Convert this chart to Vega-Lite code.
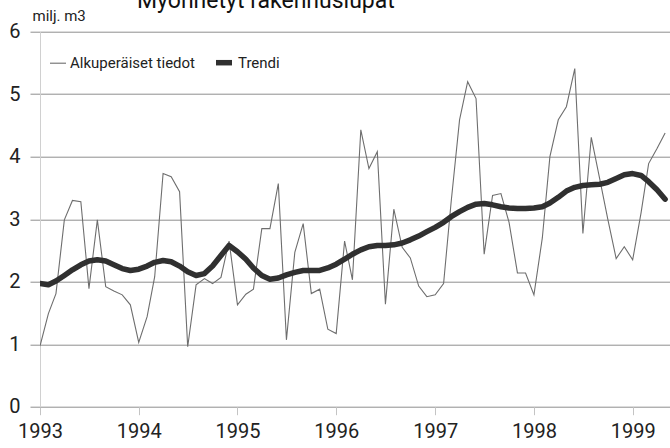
{
  "$schema": "https://vega.github.io/schema/vega-lite/v6.json",
  "width": 630,
  "height": 375,
  "autosize": "none",
  "padding": {"left": 40, "top": 31.7, "right": 0, "bottom": 41.3},
  "background": "white",
  "title": {
    "text": "Myönnetyt rakennuslupat",
    "fontSize": 23,
    "fontWeight": "normal",
    "color": "#111111",
    "anchor": "start",
    "frame": "group",
    "dx": 97,
    "dy": 22,
    "offset": 0,
    "baseline": "alphabetic"
  },
  "config": {
    "font": "Roboto, sans-serif",
    "view": {"stroke": null}
  },
  "data": {
    "values": [
      {"date": "1993-01-01", "Alkuperäiset tiedot": 0.97, "Trendi": 1.97},
      {"date": "1993-02-01", "Alkuperäiset tiedot": 1.49, "Trendi": 1.95},
      {"date": "1993-03-01", "Alkuperäiset tiedot": 1.81, "Trendi": 2.01},
      {"date": "1993-04-01", "Alkuperäiset tiedot": 2.99, "Trendi": 2.10},
      {"date": "1993-05-01", "Alkuperäiset tiedot": 3.30, "Trendi": 2.19},
      {"date": "1993-06-01", "Alkuperäiset tiedot": 3.28, "Trendi": 2.27},
      {"date": "1993-07-01", "Alkuperäiset tiedot": 1.89, "Trendi": 2.33},
      {"date": "1993-08-01", "Alkuperäiset tiedot": 2.99, "Trendi": 2.35},
      {"date": "1993-09-01", "Alkuperäiset tiedot": 1.92, "Trendi": 2.33},
      {"date": "1993-10-01", "Alkuperäiset tiedot": 1.85, "Trendi": 2.27},
      {"date": "1993-11-01", "Alkuperäiset tiedot": 1.79, "Trendi": 2.21},
      {"date": "1993-12-01", "Alkuperäiset tiedot": 1.63, "Trendi": 2.18},
      {"date": "1994-01-01", "Alkuperäiset tiedot": 1.03, "Trendi": 2.20},
      {"date": "1994-02-01", "Alkuperäiset tiedot": 1.44, "Trendi": 2.25},
      {"date": "1994-03-01", "Alkuperäiset tiedot": 2.08, "Trendi": 2.31},
      {"date": "1994-04-01", "Alkuperäiset tiedot": 3.73, "Trendi": 2.34},
      {"date": "1994-05-01", "Alkuperäiset tiedot": 3.68, "Trendi": 2.32},
      {"date": "1994-06-01", "Alkuperäiset tiedot": 3.44, "Trendi": 2.25},
      {"date": "1994-07-01", "Alkuperäiset tiedot": 0.96, "Trendi": 2.16},
      {"date": "1994-08-01", "Alkuperäiset tiedot": 1.95, "Trendi": 2.10},
      {"date": "1994-09-01", "Alkuperäiset tiedot": 2.05, "Trendi": 2.13},
      {"date": "1994-10-01", "Alkuperäiset tiedot": 1.97, "Trendi": 2.25},
      {"date": "1994-11-01", "Alkuperäiset tiedot": 2.07, "Trendi": 2.42},
      {"date": "1994-12-01", "Alkuperäiset tiedot": 2.65, "Trendi": 2.58},
      {"date": "1995-01-01", "Alkuperäiset tiedot": 1.63, "Trendi": 2.48},
      {"date": "1995-02-01", "Alkuperäiset tiedot": 1.80, "Trendi": 2.36},
      {"date": "1995-03-01", "Alkuperäiset tiedot": 1.88, "Trendi": 2.22},
      {"date": "1995-04-01", "Alkuperäiset tiedot": 2.85, "Trendi": 2.10},
      {"date": "1995-05-01", "Alkuperäiset tiedot": 2.85, "Trendi": 2.04},
      {"date": "1995-06-01", "Alkuperäiset tiedot": 3.57, "Trendi": 2.06},
      {"date": "1995-07-01", "Alkuperäiset tiedot": 1.07, "Trendi": 2.11},
      {"date": "1995-08-01", "Alkuperäiset tiedot": 2.47, "Trendi": 2.15},
      {"date": "1995-09-01", "Alkuperäiset tiedot": 2.93, "Trendi": 2.18},
      {"date": "1995-10-01", "Alkuperäiset tiedot": 1.81, "Trendi": 2.18},
      {"date": "1995-11-01", "Alkuperäiset tiedot": 1.88, "Trendi": 2.18},
      {"date": "1995-12-01", "Alkuperäiset tiedot": 1.24, "Trendi": 2.22},
      {"date": "1996-01-01", "Alkuperäiset tiedot": 1.17, "Trendi": 2.28},
      {"date": "1996-02-01", "Alkuperäiset tiedot": 2.65, "Trendi": 2.36},
      {"date": "1996-03-01", "Alkuperäiset tiedot": 2.03, "Trendi": 2.44},
      {"date": "1996-04-01", "Alkuperäiset tiedot": 4.43, "Trendi": 2.51},
      {"date": "1996-05-01", "Alkuperäiset tiedot": 3.81, "Trendi": 2.56},
      {"date": "1996-06-01", "Alkuperäiset tiedot": 4.08, "Trendi": 2.58},
      {"date": "1996-07-01", "Alkuperäiset tiedot": 1.64, "Trendi": 2.58},
      {"date": "1996-08-01", "Alkuperäiset tiedot": 3.16, "Trendi": 2.59},
      {"date": "1996-09-01", "Alkuperäiset tiedot": 2.55, "Trendi": 2.62},
      {"date": "1996-10-01", "Alkuperäiset tiedot": 2.38, "Trendi": 2.67},
      {"date": "1996-11-01", "Alkuperäiset tiedot": 1.93, "Trendi": 2.73},
      {"date": "1996-12-01", "Alkuperäiset tiedot": 1.76, "Trendi": 2.80},
      {"date": "1997-01-01", "Alkuperäiset tiedot": 1.79, "Trendi": 2.87},
      {"date": "1997-02-01", "Alkuperäiset tiedot": 1.97, "Trendi": 2.95},
      {"date": "1997-03-01", "Alkuperäiset tiedot": 3.28, "Trendi": 3.04},
      {"date": "1997-04-01", "Alkuperäiset tiedot": 4.59, "Trendi": 3.12},
      {"date": "1997-05-01", "Alkuperäiset tiedot": 5.20, "Trendi": 3.19},
      {"date": "1997-06-01", "Alkuperäiset tiedot": 4.93, "Trendi": 3.24},
      {"date": "1997-07-01", "Alkuperäiset tiedot": 2.44, "Trendi": 3.25},
      {"date": "1997-08-01", "Alkuperäiset tiedot": 3.38, "Trendi": 3.23},
      {"date": "1997-09-01", "Alkuperäiset tiedot": 3.41, "Trendi": 3.20},
      {"date": "1997-10-01", "Alkuperäiset tiedot": 2.95, "Trendi": 3.18},
      {"date": "1997-11-01", "Alkuperäiset tiedot": 2.14, "Trendi": 3.17},
      {"date": "1997-12-01", "Alkuperäiset tiedot": 2.14, "Trendi": 3.17},
      {"date": "1998-01-01", "Alkuperäiset tiedot": 1.79, "Trendi": 3.18},
      {"date": "1998-02-01", "Alkuperäiset tiedot": 2.70, "Trendi": 3.20},
      {"date": "1998-03-01", "Alkuperäiset tiedot": 4.00, "Trendi": 3.26},
      {"date": "1998-04-01", "Alkuperäiset tiedot": 4.59, "Trendi": 3.35},
      {"date": "1998-05-01", "Alkuperäiset tiedot": 4.80, "Trendi": 3.45},
      {"date": "1998-06-01", "Alkuperäiset tiedot": 5.41, "Trendi": 3.51},
      {"date": "1998-07-01", "Alkuperäiset tiedot": 2.77, "Trendi": 3.54},
      {"date": "1998-08-01", "Alkuperäiset tiedot": 4.31, "Trendi": 3.55},
      {"date": "1998-09-01", "Alkuperäiset tiedot": 3.65, "Trendi": 3.56},
      {"date": "1998-10-01", "Alkuperäiset tiedot": 3.00, "Trendi": 3.59},
      {"date": "1998-11-01", "Alkuperäiset tiedot": 2.37, "Trendi": 3.65},
      {"date": "1998-12-01", "Alkuperäiset tiedot": 2.56, "Trendi": 3.71},
      {"date": "1999-01-01", "Alkuperäiset tiedot": 2.35, "Trendi": 3.73},
      {"date": "1999-02-01", "Alkuperäiset tiedot": 3.10, "Trendi": 3.70},
      {"date": "1999-03-01", "Alkuperäiset tiedot": 3.89, "Trendi": 3.60},
      {"date": "1999-04-01", "Alkuperäiset tiedot": 4.13, "Trendi": 3.47},
      {"date": "1999-05-01", "Alkuperäiset tiedot": 4.38, "Trendi": 3.32}
    ]
  },
  "transform": [
    {"fold": ["Alkuperäiset tiedot", "Trendi"], "as": ["sarja", "arvo"]}
  ],
  "encoding": {
    "x": {
      "field": "date",
      "type": "temporal",
      "scale": {
        "type": "utc",
        "domain": [
          {"year": 1993, "month": 1, "date": 1, "utc": true},
          {"year": 1999, "month": 5, "date": 19, "utc": true}
        ]
      },
      "axis": {
        "title": null,
        "format": "%Y",
        "tickCount": {"interval": "year", "step": 1},
        "grid": false,
        "domain": false,
        "ticks": true,
        "tickColor": "#c4c4c4",
        "tickSize": 8,
        "labelFontSize": 20,
        "labelColor": "#222222",
        "labelPadding": 7,
        "labelFlush": false,
        "labelOverlap": false
      }
    },
    "y": {
      "field": "arvo",
      "type": "quantitative",
      "scale": {"domain": [0, 6], "nice": false, "zero": true},
      "axis": {
        "values": [0, 1, 2, 3, 4, 5, 6],
        "grid": true,
        "gridColor": "#8f8f8f",
        "gridWidth": 1,
        "tickColor": "#8f8f8f",
        "tickSize": 10,
        "domain": true,
        "domainColor": "#d0d0d0",
        "labelFontSize": 20,
        "labelColor": "#222222",
        "labelPadding": 10,
        "title": "milj. m3",
        "titleAngle": 0,
        "titleX": -8,
        "titleY": -16,
        "titleAlign": "left",
        "titleBaseline": "middle",
        "titleFontSize": 15,
        "titleFontWeight": "normal",
        "titleColor": "#222222"
      }
    },
    "color": {
      "field": "sarja",
      "type": "nominal",
      "scale": {"domain": ["Alkuperäiset tiedot", "Trendi"], "range": ["#6e6e6e", "#303030"]},
      "legend": {
        "title": null,
        "orient": "none",
        "legendX": 9,
        "legendY": 20,
        "direction": "horizontal",
        "symbolType": "stroke",
        "symbolSize": 256,
        "labelFontSize": 15,
        "labelColor": "#222222",
        "labelOffset": 3,
        "columnPadding": 9,
        "padding": 0
      }
    },
    "strokeWidth": {
      "field": "sarja",
      "type": "nominal",
      "scale": {"type": "ordinal", "domain": ["Alkuperäiset tiedot", "Trendi"], "range": [1.1, 5.5]},
      "legend": {
        "title": null,
        "orient": "none",
        "legendX": 9,
        "legendY": 20,
        "direction": "horizontal",
        "symbolType": "stroke",
        "symbolSize": 256,
        "labelFontSize": 15,
        "labelColor": "#222222",
        "labelOffset": 3,
        "columnPadding": 9,
        "padding": 0
      }
    }
  },
  "layer": [
    {
      "transform": [{"filter": "datum.sarja === 'Alkuperäiset tiedot'"}],
      "mark": {"type": "line", "clip": true, "strokeJoin": "miter"}
    },
    {
      "transform": [{"filter": "datum.sarja === 'Trendi'"}],
      "mark": {"type": "line", "clip": true, "strokeJoin": "round", "strokeCap": "round"}
    }
  ]
}
